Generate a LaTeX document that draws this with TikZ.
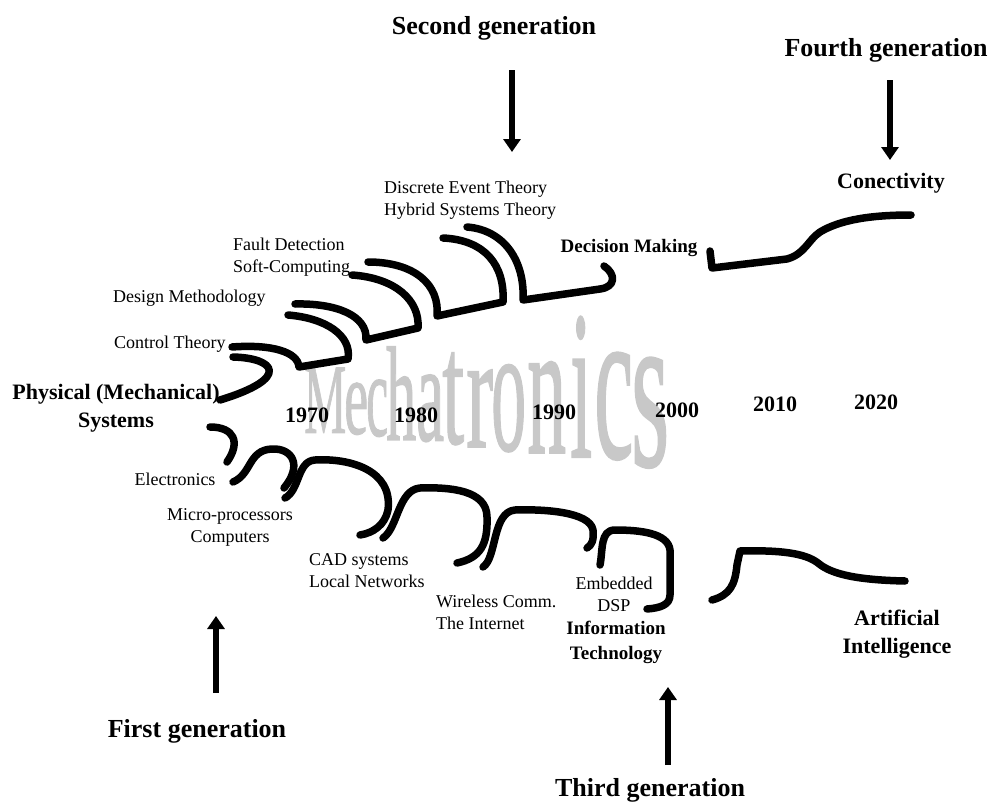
\documentclass[tikz,border=0pt]{standalone}
\usepackage{fontspec}
\usepackage{graphicx}
\setmainfont{Liberation Serif}
\newfontfamily\wmfont[FakeBold=1.2]{Liberation Serif}
\usetikzlibrary{arrows.meta}
\definecolor{wmgray}{RGB}{200,200,200}
\tikzset{
  stroke/.style={line width=7.5pt, line cap=round, line join=round},
  genarrow/.style={line width=6pt, -{Triangle[width=17pt,length=13pt]}},
  lbl/.style={font=\fontsize{18}{22}\selectfont, inner sep=0pt},
  blbl/.style={font=\bfseries\fontsize{22}{28}\selectfont, inner sep=0pt, align=center},
  sblbl/.style={font=\bfseries\fontsize{19}{25}\selectfont, inner sep=0pt, align=center},
  gen/.style={font=\bfseries\fontsize{26}{30}\selectfont, inner sep=0pt},
  year/.style={font=\bfseries\fontsize{22}{26}\selectfont, inner sep=0pt},
  wm/.style={text=wmgray, inner sep=0pt, anchor=south west, font=\wmfont},
}
\newcommand{\wml}[3]{\resizebox*{#1pt}{#2pt}{#3}}
\begin{document}
\begin{tikzpicture}[x=1pt, y=-1pt]
\useasboundingbox (0,0) rectangle (989,803);

% watermark, letters growing towards the right
\node[wm] (w1)  at (304,433) {\wml{42}{65}{M}};
\node[wm] (w2)  at (344,435) {\wml{24}{52}{e}};
\node[wm] (w3)  at (366,437) {\wml{22}{57}{c}};
\node[wm] (w4)  at (386,440) {\wml{30}{93}{h}};
\node[wm] (w5)  at (416,442) {\wml{28}{67}{a}};
\node[wm] (w6)  at (442,445) {\wml{22}{92}{t}};
\node[wm] (w7)  at (466,447) {\wml{27}{77}{r}};
\node[wm] (w8)  at (491,452) {\wml{35}{87}{o}};
\node[wm] (w9)  at (527,453) {\wml{39}{91}{n}};
\node[wm] (w10) at (570,457) {\wml{22}{140}{i}};
\node[wm] (w11) at (594,460) {\wml{39}{107}{c}};
\node[wm] (w12) at (631,468) {\wml{38}{110}{s}};

% generation labels and arrows
\node[gen] (g2) at (494,28) {Second generation};
\node[gen] (g4) at (886,50) {Fourth generation};
\node[gen] (g1) at (197,731) {First generation};
\node[gen] (g3) at (650,790) {Third generation};
\coordinate (a2s) at (512,70);  \coordinate (a2e) at (512,152);
\coordinate (a4s) at (890,80);  \coordinate (a4e) at (890,160);
\coordinate (a1s) at (216,693); \coordinate (a1e) at (216,616);
\coordinate (a3s) at (668,765); \coordinate (a3e) at (668,687);
\draw[genarrow] (a2s) -- (a2e);
\draw[genarrow] (a4s) -- (a4e);
\draw[genarrow] (a1s) -- (a1e);
\draw[genarrow] (a3s) -- (a3e);

% upper branch labels
\node[blbl] (conn) at (891,183) {Conectivity};
\node[sblbl] (dec) at (629,248) {Decision Making};
\node[lbl, anchor=west, align=left] (det) at (384,200) {Discrete Event Theory\\Hybrid Systems Theory};
\node[lbl, anchor=west, align=left] (fd) at (233,257) {Fault Detection\\Soft-Computing};
\node[lbl, anchor=west] (dm) at (113,298) {Design Methodology};
\node[lbl, anchor=west] (ct) at (114,344) {Control Theory};
\node[blbl] (phys) at (116,408) {Physical (Mechanical)\\Systems};

% years
\node[year] (y70) at (307,415) {1970};
\node[year] (y80) at (416,415) {1980};
\node[year] (y90) at (554,412) {1990};
\node[year] (y00) at (677,410) {2000};
\node[year] (y10) at (775,404) {2010};
\node[year] (y20) at (876,402) {2020};

% lower branch labels
\node[lbl] (el) at (175,479) {Electronics};
\node[lbl, align=center] (mp) at (230,527) {Micro-processors\\Computers};
\node[lbl, anchor=west, align=left] (cad) at (309,571) {CAD systems\\Local Networks};
\node[lbl, anchor=west, align=left] (wc) at (436,612) {Wireless Comm.\\The Internet};
\node[lbl, align=center] (emb) at (614,594) {Embedded\\DSP};
\node[sblbl] (it) at (616,642) {Information\\Technology};
\node[blbl] (ai) at (897,634) {Artificial\\Intelligence};

% stroke end points, upper branch
\coordinate (p0) at (220,400);
\coordinate (u0) at (233,357);
\coordinate (u1) at (232,347);
\coordinate (u1b) at (299,367);
\coordinate (u1c) at (348,359);
\coordinate (u2e) at (288,315);
\coordinate (u2) at (295,304);
\coordinate (u2b) at (366,340);
\coordinate (u2c) at (418,328);
\coordinate (u3e) at (352,275);
\coordinate (u3) at (368,262);
\coordinate (u3b) at (437,316);
\coordinate (u3c) at (503,302);
\coordinate (u4e) at (443,238);
\coordinate (u4) at (467,227);
\coordinate (u4b) at (523,300);
\coordinate (u4c) at (600,289);
\coordinate (u4e2) at (604,266);
\coordinate (u5) at (710,251);
\coordinate (u5b) at (712,268);
\coordinate (u5c) at (787,259);
\coordinate (u5e) at (911,215);

\draw[stroke] (u0) .. controls (275,358) and (292,378) .. (p0);
\draw[stroke] (u1) .. controls (272,344) and (298,352) .. (u1b) -- (u1c)
  .. controls (352,335) and (325,318) .. (u2e);
\draw[stroke] (u2) .. controls (335,303) and (368,315) .. (u2b) -- (u2c)
  .. controls (420,300) and (395,278) .. (u3e);
\draw[stroke] (u3) .. controls (415,262) and (440,285) .. (u3b) -- (u3c)
  .. controls (505,265) and (485,240) .. (u4e);
\draw[stroke] (u4) .. controls (505,230) and (525,262) .. (u4b) -- (u4c)
  .. controls (616,287) and (616,274) .. (u4e2);
\draw[stroke] (u5) -- (u5b) -- (u5c) .. controls (805,254) and (808,240) .. (820,232)
  .. controls (840,220) and (870,215) .. (u5e);

% stroke end points, lower branch
\coordinate (l0) at (210,427);
\coordinate (l0e) at (227,462);
\coordinate (l1) at (233,482);
\coordinate (l1e) at (284,488);
\coordinate (l2) at (285,498);
\coordinate (l2e) at (360,535);
\coordinate (l3) at (383,538);
\coordinate (l3e) at (457,563);
\coordinate (l4) at (483,567);
\coordinate (l4e) at (587,548);
\coordinate (l5) at (600,565);
\coordinate (l5e) at (647,609);
\coordinate (l6) at (712,600);
\coordinate (l6e) at (905,581);

\draw[stroke] (l0) .. controls (234,427) and (241,442) .. (l0e);
\draw[stroke] (l1) .. controls (252,474) and (248,450) .. (272,449)
  .. controls (292,448) and (303,465) .. (l1e);
\draw[stroke] (l2) .. controls (300,490) and (297,461) .. (315,460)
  .. controls (350,458) and (393,470) .. (388,510)
  .. controls (385,525) and (373,533) .. (l2e);
\draw[stroke] (l3) .. controls (398,528) and (398,490) .. (420,488)
  .. controls (450,487) and (487,490) .. (487,517)
  .. controls (488,545) and (480,558) .. (l3e);
\draw[stroke] (l4) .. controls (497,558) and (492,512) .. (515,510)
  .. controls (545,509) and (590,512) .. (593,530)
  .. controls (594,540) and (592,545) .. (l4e);
\draw[stroke] (l5) .. controls (603,550) and (600,530) .. (615,530)
  .. controls (640,530) and (668,533) .. (670,550) -- (670,595)
  .. controls (670,605) and (660,608) .. (l5e);
\draw[stroke] (l6) .. controls (730,595) and (735,585) .. (737,565) -- (740,551)
  .. controls (780,550) and (805,553) .. (818,563)
  .. controls (832,575) and (860,580) .. (l6e);
\end{tikzpicture}
\end{document}
